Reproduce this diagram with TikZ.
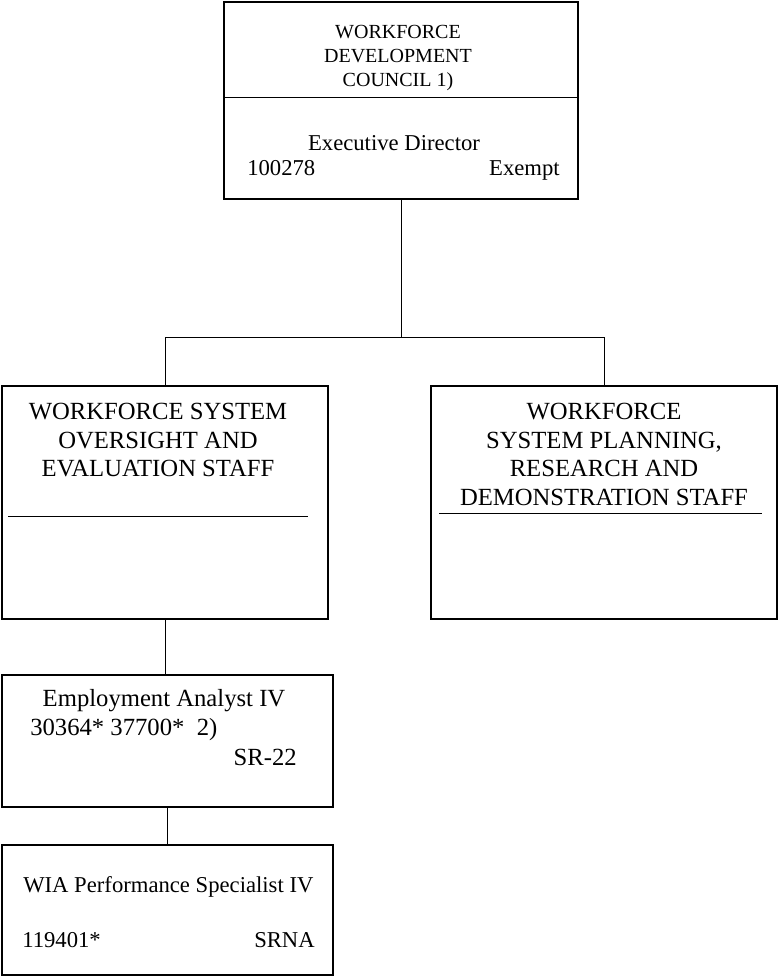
\documentclass[tikz,border=0pt]{standalone}
\usepackage{fontspec}
\setmainfont{Liberation Serif}
\usetikzlibrary{calc}
\tikzset{box/.style={draw,line width=0.9pt,inner sep=0pt},
  link/.style={line width=0.5pt},
  boxtext/.style={inner sep=0pt}}

\begin{document}
\begin{tikzpicture}[x=0.75pt,y=-0.75pt]
\useasboundingbox (0,0) rectangle (778,979);
% boxes
\node[box,minimum width=265.5pt,minimum height=147.75pt] (council) at (401,100.5) {};
\node[box,minimum width=244.5pt,minimum height=174.75pt] (oversight) at (165,502.5) {};
\node[box,minimum width=259.5pt,minimum height=174.75pt] (planning) at (604,502.5) {};
\node[box,minimum width=248.25pt,minimum height=99pt] (analyst) at (167.5,741) {};
\node[box,minimum width=248.25pt,minimum height=97.5pt] (wia) at (167.5,910) {};

\draw[line width=0.7pt] (council.west |- 0,97) -- (council.east |- 0,97);
\draw[line width=0.7pt] (8,516) -- (308,516);
\draw[line width=0.7pt] (439,513) -- (762,513);

% texts
\node[boxtext,anchor=north,align=center,font=\fontsize{15}{18}\selectfont] (councilname) at (398,25)
  {WORKFORCE\\DEVELOPMENT\\COUNCIL 1)};
\node[boxtext,anchor=base,font=\fontsize{17}{20}\selectfont] (director) at (394,150) {Executive Director};
\node[boxtext,anchor=base west,font=\fontsize{17}{20}\selectfont] (dirnum) at (247,175) {100278};
\node[boxtext,anchor=base east,font=\fontsize{17}{20}\selectfont] (dirclass) at (560,175) {Exempt};

\node[boxtext,anchor=north,align=center,font=\fontsize{18.5}{21.4}\selectfont] (oversightname) at (158,403)
  {WORKFORCE SYSTEM\\OVERSIGHT AND\\EVALUATION STAFF};
\node[boxtext,anchor=north,align=center,font=\fontsize{18.5}{21.4}\selectfont] (planningname) at (604,403)
  {WORKFORCE\\SYSTEM PLANNING,\\RESEARCH AND\\DEMONSTRATION STAFF};

\node[boxtext,anchor=base,font=\fontsize{18.5}{21.4}\selectfont] (analystname) at (164,706) {Employment Analyst IV};
\node[boxtext,anchor=base west,font=\fontsize{18.5}{21.4}\selectfont] (analystnum) at (30,735) {30364* 37700*\ \ 2)};
\node[boxtext,anchor=base east,font=\fontsize{18.5}{21.4}\selectfont] (analystclass) at (297,765) {SR-22};

\node[boxtext,anchor=base west,font=\fontsize{17}{20}\selectfont] (wianame) at (23,892) {WIA Performance Specialist IV};
\node[boxtext,anchor=base west,font=\fontsize{17}{20}\selectfont] (wianum) at (22,947) {119401*};
\node[boxtext,anchor=base east,font=\fontsize{17}{20}\selectfont] (wiaclass) at (315,947) {SRNA};

% connectors
\coordinate (bus) at (0,337);
\draw[link] (council.south) -- (council.south |- bus);
\draw[link] (oversight.north) |- (bus -| planning.north) -- (planning.north);
\draw[link] (oversight.south) -- (oversight.south |- analyst.north);
\draw[link] (analyst.south) -- (analyst.south |- wia.north);
\end{tikzpicture}
\end{document}
